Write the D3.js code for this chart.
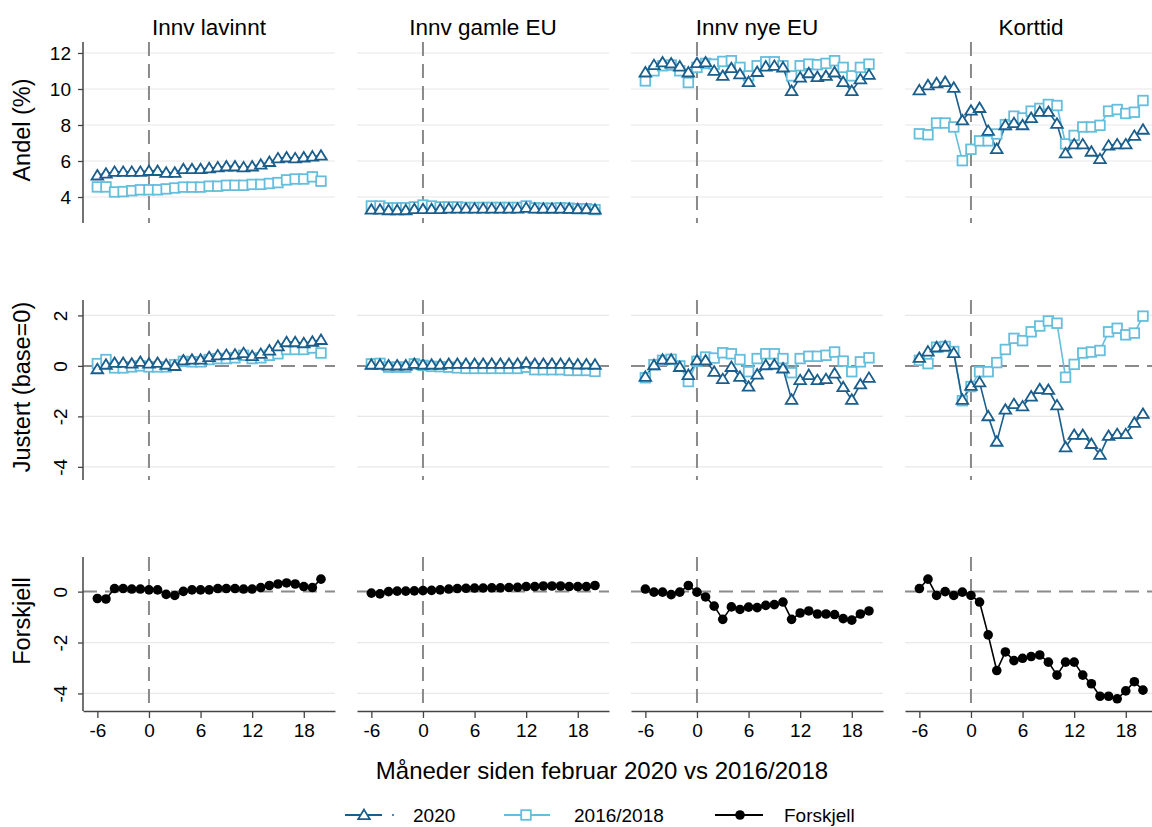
<!DOCTYPE html>
<html>
<head>
<meta charset="utf-8">
<script src="https://cdn.jsdelivr.net/npm/d3@7"></script>
<style>
body { margin: 0; background: #fff; }
text { font-family: "Liberation Sans", Arial, Helvetica, sans-serif; fill: #000; }
</style>
</head>
<body>
<svg id="chart" width="1152" height="827"></svg>
<script>
// months since feb 2020 (x categories)
var months = [-6,-5,-4,-3,-2,-1,0,1,2,3,4,5,6,7,8,9,10,11,12,13,14,15,16,17,18,19,20];
var panelNames = ["Innv lavinnt", "Innv gamle EU", "Innv nye EU", "Korttid"];
var rowNames = ["Andel (%)", "Justert (base=0)", "Forskjell"];
var xTicks = [-6, 0, 6, 12, 18];
var andelTicks = [4, 6, 8, 10, 12];
var justertTicks = [2, 0, -2, -4];
var forskjellTicks = [0, -2, -4];
var legendLabels = ["2020", "2016/2018", "Forskjell"];

// Andel (%) - one array per panel
var andel2020 = [
  [5.2,5.3,5.4,5.4,5.4,5.4,5.45,5.45,5.35,5.35,5.55,5.55,5.55,5.6,5.65,5.7,5.7,5.65,5.7,5.8,5.95,6.15,6.2,6.15,6.2,6.25,6.3],
  [3.3,3.3,3.27,3.27,3.27,3.33,3.33,3.33,3.33,3.36,3.36,3.36,3.36,3.36,3.36,3.36,3.36,3.36,3.4,3.36,3.36,3.36,3.36,3.35,3.33,3.33,3.3],
  [10.92,11.33,11.48,11.42,11.25,10.92,11.44,11.48,11.01,10.73,11.16,10.82,10.39,10.95,11.25,11.29,11.2,9.89,10.64,10.88,10.67,10.73,10.92,10.39,9.89,10.54,10.79],
  [9.93,10.21,10.32,10.39,10.07,8.26,8.8,8.95,7.68,6.67,7.99,8.11,7.99,8.39,8.73,8.73,8.07,6.43,6.93,6.93,6.52,6.11,6.86,6.93,6.93,7.4,7.74]
];
var andel1618 = [
  [4.56,4.56,4.28,4.3,4.35,4.4,4.4,4.4,4.45,4.5,4.55,4.55,4.55,4.6,4.6,4.65,4.65,4.65,4.7,4.7,4.75,4.8,4.95,5.0,5.0,5.12,4.88],
  [3.5,3.5,3.4,3.4,3.4,3.45,3.55,3.5,3.45,3.45,3.45,3.42,3.42,3.42,3.42,3.42,3.42,3.42,3.5,3.4,3.38,3.38,3.4,3.38,3.35,3.35,3.3],
  [10.45,11.01,11.29,11.33,11.01,10.36,11.2,11.42,11.38,11.53,11.57,11.2,10.73,11.29,11.51,11.51,11.29,10.73,11.29,11.38,11.35,11.42,11.57,11.2,10.73,11.2,11.38],
  [7.51,7.46,8.11,8.11,7.89,6.02,6.65,7.12,7.12,7.5,8.02,8.49,8.39,8.77,8.92,9.14,9.08,6.95,7.42,7.89,7.89,7.98,8.77,8.86,8.64,8.71,9.36]
];

// Justert (base=0)
var justert2020 = [
  [-0.13,0.05,0.12,0.12,0.09,0.16,0.09,0.12,0.05,0,0.22,0.25,0.25,0.35,0.42,0.44,0.45,0.51,0.39,0.48,0.61,0.78,0.94,0.94,0.9,0.96,1.03],
  [0.05,0.05,0.02,0.02,0.02,0.08,0.05,0.05,0.05,0.08,0.08,0.08,0.08,0.08,0.08,0.08,0.08,0.08,0.12,0.08,0.08,0.08,0.08,0.08,0.06,0.06,0.05],
  [-0.43,0.03,0.25,0.25,-0.04,-0.36,0.22,0.22,-0.23,-0.52,-0.04,-0.43,-0.82,-0.34,0.03,0.05,-0.1,-1.34,-0.56,-0.36,-0.56,-0.52,-0.3,-0.84,-1.34,-0.73,-0.47],
  [0.32,0.57,0.74,0.77,0.51,-1.34,-0.79,-0.65,-1.99,-3.0,-1.73,-1.51,-1.6,-1.21,-0.92,-0.95,-1.56,-3.22,-2.73,-2.73,-3.09,-3.52,-2.77,-2.7,-2.7,-2.25,-1.9]
];
var justert1618 = [
  [0.09,0.25,-0.08,-0.08,-0.04,0,-0.04,-0.04,-0.04,0.05,0.18,0.16,0.16,0.25,0.29,0.29,0.32,0.42,0.29,0.32,0.42,0.48,0.65,0.65,0.65,0.71,0.51],
  [0.08,0.1,-0.05,-0.05,-0.05,0.08,0.02,-0.02,-0.03,-0.05,-0.08,-0.1,-0.1,-0.1,-0.1,-0.1,-0.1,-0.1,-0.05,-0.15,-0.15,-0.15,-0.15,-0.18,-0.18,-0.18,-0.22],
  [-0.47,0.05,0.22,0.26,0,-0.62,0.18,0.35,0.31,0.52,0.48,0.25,-0.23,0.29,0.48,0.48,0.29,-0.27,0.29,0.38,0.38,0.42,0.55,0.19,-0.23,0.16,0.32],
  [0.22,0.09,0.74,0.77,0.57,-1.38,-0.82,-0.23,-0.23,0.13,0.65,1.09,1.0,1.35,1.58,1.78,1.69,-0.45,0.06,0.51,0.55,0.61,1.35,1.49,1.23,1.3,1.97]
];

// Forskjell (2020 - 2016/2018)
var forskjell = [
  [-0.27,-0.29,0.12,0.12,0.1,0.1,0.07,0.07,-0.11,-0.15,0.01,0.07,0.07,0.07,0.12,0.12,0.12,0.1,0.1,0.16,0.24,0.3,0.34,0.3,0.2,0.16,0.49],
  [-0.06,-0.09,0,0.02,0.02,0.03,0.04,0.05,0.07,0.1,0.12,0.13,0.14,0.14,0.15,0.15,0.16,0.17,0.2,0.2,0.22,0.22,0.22,0.2,0.2,0.2,0.24],
  [0.1,-0.02,-0.02,-0.12,-0.02,0.24,-0.02,-0.21,-0.57,-1.09,-0.6,-0.7,-0.61,-0.63,-0.54,-0.51,-0.41,-1.09,-0.84,-0.76,-0.88,-0.88,-0.9,-1.06,-1.12,-0.88,-0.76],
  [0.12,0.49,-0.15,0,-0.15,-0.02,-0.15,-0.41,-1.7,-3.1,-2.37,-2.71,-2.62,-2.55,-2.49,-2.77,-3.28,-2.77,-2.77,-3.28,-3.62,-4.11,-4.11,-4.21,-3.9,-3.54,-3.87]
];

var col2020 = "#1a5e8c", col1618 = "#64bedc", colDiff = "#000";
var gridCol = "#e8e8e8", refCol = "#8a8a8a";
var fmt = function(d) { return String(d); };   // plain hyphen minus like the original

var svg = d3.select("#chart");

// layout
var panelLefts = [83, 357, 631, 905], panelW = 252;
var rows = [
  { top: 42,  bottom: 223, domain: [2.556, 12.61], ticks: andelTicks, zero: false, labelY: 130,
    series: [{ d: andel1618, kind: "sq" }, { d: andel2020, kind: "tri" }] },
  { top: 300, bottom: 480, domain: [-4.52, 2.61], ticks: justertTicks, zero: true, labelY: 387,
    series: [{ d: justert1618, kind: "sq" }, { d: justert2020, kind: "tri" }] },
  { top: 557, bottom: 711, domain: [-4.69, 1.36], ticks: forskjellTicks, zero: true, labelY: 621,
    series: [{ d: forskjell, kind: "dot" }] }
];

var triPath = "M0,-5.4L5.8,4.1L-5.8,4.1Z";

rows.forEach(function(row, r) {
  var y = d3.scaleLinear().domain(row.domain).range([row.bottom, row.top]);

  panelLefts.forEach(function(left, c) {
    var x = d3.scaleLinear().domain([-7.67, 21.63]).range([left, left + panelW]);
    var g = svg.append("g");

    // grid
    row.ticks.forEach(function(t) {
      if (row.zero && t === 0) return;
      g.append("line").attr("x1", left).attr("x2", left + panelW)
        .attr("y1", y(t)).attr("y2", y(t))
        .attr("stroke", gridCol).attr("stroke-width", 1.2);
    });
    // reference lines
    if (row.zero) {
      g.append("line").attr("x1", left).attr("x2", left + panelW)
        .attr("y1", y(0)).attr("y2", y(0))
        .attr("stroke", refCol).attr("stroke-width", 2).attr("stroke-dasharray", "14,8");
    }
    g.append("line").attr("x1", x(0)).attr("x2", x(0))
      .attr("y1", row.top).attr("y2", row.bottom)
      .attr("stroke", refCol).attr("stroke-width", 2).attr("stroke-dasharray", "14,8");

    // lines first
    row.series.forEach(function(s) {
      var col = s.kind === "sq" ? col1618 : (s.kind === "tri" ? col2020 : colDiff);
      var line = d3.line().x(function(d, i) { return x(months[i]); }).y(function(d) { return y(d); });
      g.append("path").datum(s.d[c]).attr("d", line)
        .attr("fill", "none").attr("stroke", col).attr("stroke-width", 1.6);
    });
    // markers
    row.series.forEach(function(s) {
      var pts = g.append("g").selectAll("path").data(s.d[c]).enter();
      if (s.kind === "sq") {
        pts.append("rect")
          .attr("x", function(d, i) { return x(months[i]) - 4.8; })
          .attr("y", function(d) { return y(d) - 4.8; })
          .attr("width", 9.6).attr("height", 9.6)
          .attr("fill", "#fff").attr("stroke", col1618).attr("stroke-width", 1.8);
      } else if (s.kind === "tri") {
        pts.append("path").attr("d", triPath)
          .attr("transform", function(d, i) { return "translate(" + x(months[i]) + "," + y(d) + ")"; })
          .attr("fill", "#fff").attr("stroke", col2020).attr("stroke-width", 1.8);
      } else {
        pts.append("circle")
          .attr("cx", function(d, i) { return x(months[i]); })
          .attr("cy", function(d) { return y(d); })
          .attr("r", 4.8).attr("fill", colDiff);
      }
    });

    // column titles
    if (r === 0) {
      svg.append("text").attr("x", left + panelW / 2).attr("y", 35)
        .attr("text-anchor", "middle").style("font-size", "22.5px").text(panelNames[c]);
    }

    // x axis on bottom row
    if (r === rows.length - 1) {
      var xa = svg.append("g").attr("transform", "translate(0," + row.bottom + ")")
        .call(d3.axisBottom(x).tickValues(xTicks).tickFormat(fmt).tickSize(7).tickPadding(6).tickSizeOuter(0));
      xa.select(".domain").attr("stroke", "#444").attr("stroke-width", 1.5);
      xa.selectAll(".tick line").attr("stroke", "#444").attr("stroke-width", 1.3);
      xa.selectAll(".tick text").style("font-size", "19px").style("font-family", "Liberation Sans, Arial, sans-serif");
    }
  });

  // y axis on left column
  var ya = svg.append("g").attr("transform", "translate(" + panelLefts[0] + ",0)")
    .call(d3.axisLeft(y).tickValues(row.ticks).tickSize(5).tickPadding(7).tickSizeOuter(0).tickFormat(fmt));
  ya.select(".domain").attr("stroke", "#444").attr("stroke-width", 1.5)
    .attr("d", "M0," + row.top + "V" + row.bottom);
  ya.selectAll(".tick line").attr("stroke", "#444").attr("stroke-width", 1.3);
  ya.selectAll(".tick text").style("font-size", "19px").style("font-family", "Liberation Sans, Arial, sans-serif");
  if (r > 0) {
    ya.selectAll(".tick text")
      .attr("x", null).attr("dy", null)
      .attr("text-anchor", "middle")
      .attr("transform", "translate(-16,0) rotate(-90)");
  }

  // row label
  svg.append("text").attr("transform", "translate(30," + row.labelY + ") rotate(-90)")
    .attr("text-anchor", "middle").style("font-size", "23.5px").text(rowNames[r]);
});

// x axis title
svg.append("text").attr("x", 602).attr("y", 779).attr("text-anchor", "middle")
  .style("font-size", "24px").text("Måneder siden februar 2020 vs 2016/2018");

// legend
var leg = svg.append("g");
var ly = 815;
leg.append("line").attr("x1", 345).attr("x2", 382).attr("y1", ly).attr("y2", ly)
  .attr("stroke", col2020).attr("stroke-width", 1.8);
leg.append("path").attr("d", triPath).attr("transform", "translate(364," + ly + ")")
  .attr("fill", "#fff").attr("stroke", col2020).attr("stroke-width", 1.8);
leg.append("circle").attr("cx", 393).attr("cy", ly).attr("r", 1).attr("fill", col2020);
leg.append("text").attr("x", 413).attr("y", ly + 7).style("font-size", "19px").text(legendLabels[0]);

leg.append("line").attr("x1", 504).attr("x2", 550).attr("y1", ly).attr("y2", ly)
  .attr("stroke", col1618).attr("stroke-width", 1.8);
leg.append("rect").attr("x", 526 - 4.8).attr("y", ly - 4.8).attr("width", 9.6).attr("height", 9.6)
  .attr("fill", "#fff").attr("stroke", col1618).attr("stroke-width", 1.8);
leg.append("text").attr("x", 574).attr("y", ly + 7).style("font-size", "19px").text(legendLabels[1]);

leg.append("line").attr("x1", 715).attr("x2", 763).attr("y1", ly).attr("y2", ly)
  .attr("stroke", colDiff).attr("stroke-width", 1.8);
leg.append("circle").attr("cx", 740).attr("cy", ly).attr("r", 4.8).attr("fill", colDiff);
leg.append("text").attr("x", 784).attr("y", ly + 7).style("font-size", "19px").text(legendLabels[2]);
</script>
</body>
</html>
